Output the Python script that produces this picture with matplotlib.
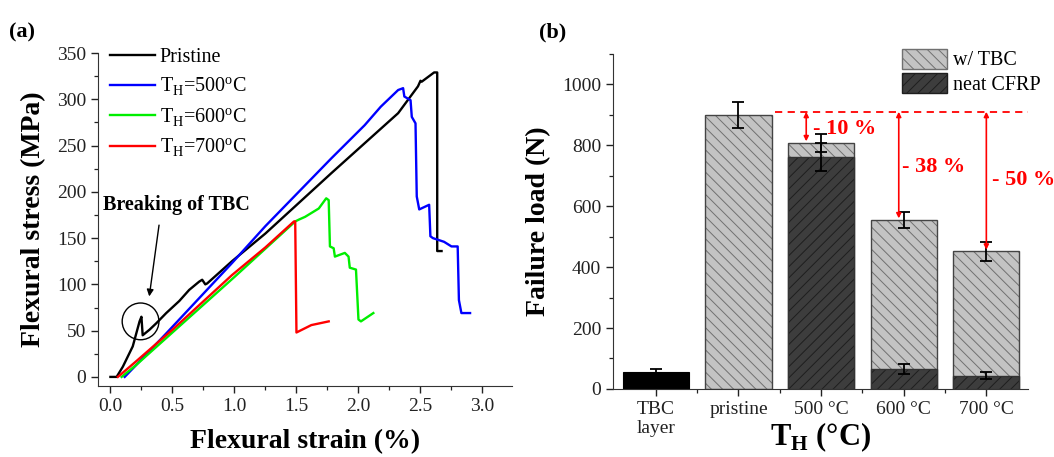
# Flexural tests of TBC-coated CFRP: stress-strain curves (a) and failure loads (b)
from matplotlib import pyplot as plt
from matplotlib.ticker import MultipleLocator, FixedLocator
from matplotlib.patches import Patch
import numpy as np

plt.rcParams['font.family'] = ['Liberation Serif', 'DejaVu Serif']
plt.rcParams['mathtext.fontset'] = 'custom'
plt.rcParams['mathtext.rm'] = 'Liberation Serif'
plt.rcParams['mathtext.bf'] = 'Liberation Serif:bold'
plt.rcParams['hatch.linewidth'] = 0.7

# (a) stress-strain curves
pristine_strain = [0.0, 0.05, 0.1, 0.18, 0.235, 0.25, 0.26, 0.315, 0.37, 0.45, 0.555, 0.635,
                   0.716, 0.74, 0.765, 0.78, 0.98, 1.25, 1.78, 2.32, 2.48, 2.50, 2.51, 2.61,
                   2.635, 2.635, 2.67]
pristine_stress = [0, 0, 11, 33, 60, 65, 45, 51, 58, 69, 82, 94,
                   103, 105, 100, 101, 125, 155, 220, 285, 314, 320, 319, 329,
                   329, 136, 136]
t500_strain = [0.115, 0.18, 0.45, 0.98, 1.25, 1.78, 2.05, 2.18, 2.32, 2.36, 2.37, 2.42, 2.43,
               2.46, 2.47, 2.49, 2.57, 2.58, 2.60, 2.69, 2.75, 2.80, 2.81, 2.83, 2.90]
t500_stress = [0, 9, 47, 123, 163, 236, 272, 292, 310, 312, 303, 299, 281,
               274, 195, 181, 186, 152, 150, 146, 141, 141, 83, 69, 69]
t600_strain = [0.09, 0.2, 0.5, 1.0, 1.49, 1.52, 1.57, 1.68, 1.74, 1.76, 1.77, 1.80, 1.81,
               1.89, 1.92, 1.93, 1.98, 2.00, 2.02, 2.12]
t600_stress = [0, 12, 48, 108, 168, 170, 173, 182, 193, 191, 141, 139, 130,
               134, 130, 118, 116, 62, 60, 69]
t700_strain = [0.06, 0.2, 0.5, 0.98, 1.25, 1.48, 1.49, 1.50, 1.62, 1.76]
t700_stress = [0, 16, 51, 110, 140, 168, 168, 48, 56, 60]

# (b) failure loads
categories = ['TBC\nlayer', 'pristine', '500 \u00b0C', '600 \u00b0C', '700 \u00b0C']
tbc_layer_load = 55
tbc_layer_err = 10
wtbc_load = [900, 808, 555, 452]   # pristine, 500, 600, 700
wtbc_err = [42, 30, 26, 31]
neat_load = [762, 65, 44]          # 500, 600, 700
neat_err = [45, 17, 12]
drops = ['- 10 %', '- 38 %', '- 50 %']
ref_level = 910

fig = plt.figure(figsize=(10.54, 4.57), dpi=100)
ax1 = fig.add_axes([0.093, 0.155, 0.393, 0.729])
ax2 = fig.add_axes([0.5815, 0.149, 0.3935, 0.733])

# ---------- panel (a)
lw = 1.7
ax1.plot(pristine_strain, pristine_stress, color='black', lw=lw, label='Pristine')
ax1.plot(t500_strain, t500_stress, color='#0000ff', lw=lw, label='T$_\\mathrm{H}$=500$^\\mathrm{o}$C')
ax1.plot(t600_strain, t600_stress, color='#00ee00', lw=lw, label='T$_\\mathrm{H}$=600$^\\mathrm{o}$C')
ax1.plot(t700_strain, t700_stress, color='#ff0000', lw=lw, label='T$_\\mathrm{H}$=700$^\\mathrm{o}$C')

ax1.set_xlim(-0.1, 3.24)
ax1.set_ylim(-10, 350)
ax1.xaxis.set_minor_locator(MultipleLocator(0.25))
ax1.yaxis.set_major_locator(MultipleLocator(50))
ax1.yaxis.set_minor_locator(MultipleLocator(25))
ax1.set_xticks(np.arange(0, 3.01, 0.5))
ax1.set_xticklabels(['%.1f' % v for v in np.arange(0, 3.01, 0.5)])

ax1.set_xlabel('Flexural strain (%)', fontsize=20, fontweight='bold', labelpad=10)
ax1.set_ylabel('Flexural stress (MPa)', fontsize=20, fontweight='bold', labelpad=8)

ax1.legend(loc='upper left', bbox_to_anchor=(0.01, 1.04), frameon=False, fontsize=14.5,
           handlelength=2.2, handletextpad=0.25, labelspacing=0.42, borderaxespad=0)

# breaking of TBC annotation
ax1.scatter([0.243], [60], s=700, facecolors='none', edgecolors='black', linewidths=1.0)
ax1.text(-0.06, 186, 'Breaking of TBC', fontsize=14.5, fontweight='bold', va='center', ha='left')
ax1.annotate('', xy=(0.31, 84), xytext=(0.395, 167),
             arrowprops=dict(arrowstyle='-|>', color='black', lw=1.0, mutation_scale=10))
fig.text(0.009, 0.918, '(a)', fontsize=16, fontweight='bold')

# ---------- panel (b)
xpos = np.arange(len(categories))
width = 0.8
errkw = dict(fmt='none', ecolor='black', elinewidth=1.3, capsize=4, capthick=1.3, zorder=5)

ax2.bar(xpos[0], tbc_layer_load, width, color='black', edgecolor='black', lw=0.8, zorder=2)
ax2.errorbar(xpos[0], tbc_layer_load, yerr=tbc_layer_err, **errkw)

ax2.bar(xpos[1:], wtbc_load, width, color='#c3c3c3', edgecolor='#707070', hatch='\\\\\\',
        lw=0, zorder=2)
ax2.bar(xpos[1:], wtbc_load, width, fill=False, edgecolor='#444444', lw=1.0, zorder=3)
ax2.bar(xpos[2:], neat_load, width, color='#3d3d3d', edgecolor='#1e1e1e', hatch='///',
        lw=0, zorder=3)
ax2.bar(xpos[2:], neat_load, width, fill=False, edgecolor='#333333', lw=1.0, zorder=3)
ax2.errorbar(xpos[1:], wtbc_load, yerr=wtbc_err, **errkw)
ax2.errorbar(xpos[2:], neat_load, yerr=neat_err, **errkw)

# legend proxies
h1 = Patch(facecolor='#c3c3c3', edgecolor='#707070', hatch='\\\\\\', lw=1.0)
h2 = Patch(facecolor='#3d3d3d', edgecolor='#1e1e1e', hatch='///', lw=1.0)
ax2.legend([h1, h2], ['w/ TBC', 'neat CFRP'], loc='upper right', bbox_to_anchor=(1.05, 1.04),
           frameon=False, fontsize=14.5, handlelength=2.2, handleheight=1.15,
           handletextpad=0.3, labelspacing=0.12, borderaxespad=0)

# reduction arrows
ax2.plot([1.44, 4.5], [ref_level, ref_level], color='red', ls=(0, (4, 3)), lw=1.3, zorder=6,
         clip_on=False)
arrow_x = [1.82, 2.94, 4.0]
text_x = [1.9, 2.98, 4.07]
text_y = [852, 728, 685]
for ax_x, tx, ty, lab, top in zip(arrow_x, text_x, text_y, drops, wtbc_load[1:]):
    ax2.annotate('', xy=(ax_x, top + 5), xytext=(ax_x, ref_level),
                 arrowprops=dict(arrowstyle='<|-|>', color='red', lw=1.2, mutation_scale=7,
                                 shrinkA=0, shrinkB=0), zorder=7)
    ax2.text(tx, ty, lab, color='red', fontsize=16, fontweight='bold', va='center',
             ha='left', zorder=8, clip_on=False)

ax2.set_xlim(-0.52, 4.5)
ax2.set_ylim(0, 1100)
ax2.set_xticks(xpos)
ax2.set_xticklabels(categories)
ax2.xaxis.set_minor_locator(FixedLocator(xpos[:-1] + 0.5))
ax2.yaxis.set_major_locator(MultipleLocator(200))
ax2.yaxis.set_minor_locator(MultipleLocator(100))
ax2.set_xlabel('T$_\\mathbf{H}$ (\u00b0C)', fontsize=22, fontweight='bold')
ax2.xaxis.set_label_coords(0.5, -0.093)
ax2.set_ylabel('Failure load (N)', fontsize=20, fontweight='bold', labelpad=8)
fig.text(0.511, 0.918, '(b)', fontsize=16, fontweight='bold')

for ax in (ax1, ax2):
    ax.spines['top'].set_visible(False)
    ax.spines['right'].set_visible(False)
    ax.spines['left'].set_color('#333333')
    ax.spines['bottom'].set_color('#333333')
    ax.tick_params(which='major', direction='out', length=5, width=1.0, labelsize=14,
                   colors='#222222')
    ax.tick_params(which='minor', direction='out', length=3, width=0.9, colors='#222222')

plt.savefig('out.png', dpi=100)
